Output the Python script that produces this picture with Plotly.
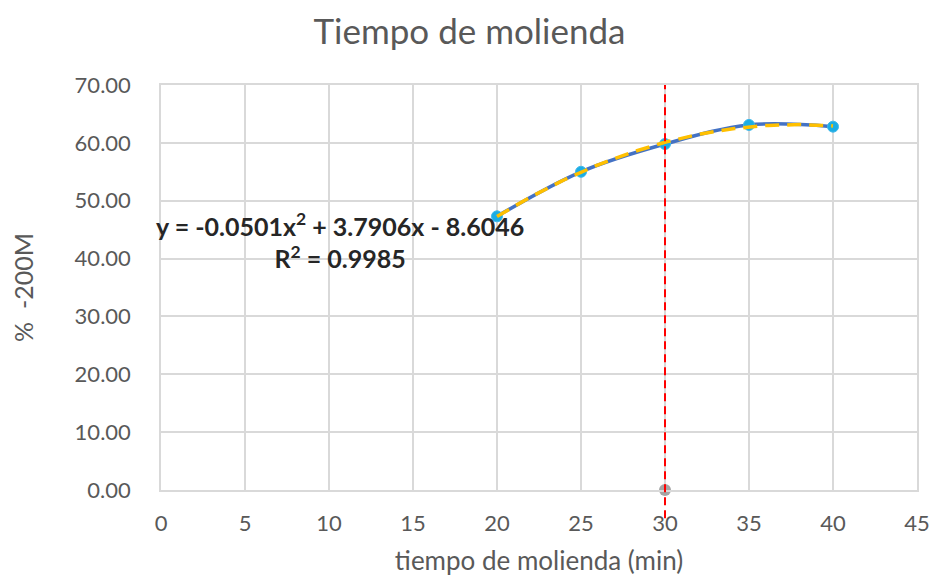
import numpy as np
import plotly.graph_objects as go

# data
tiempo = [20, 25, 30, 35, 40]
pct_200m = [47.3, 55.0, 59.8, 63.1, 62.8]
ref_x = [30]
ref_y = [0]
vline_x = 30
eq_text = "y = -0.0501x<sup>2</sup> + 3.7906x - 8.6046"
r2_text = "R<sup>2</sup> = 0.9985"
x_ticks = [0, 5, 10, 15, 20, 25, 30, 35, 40, 45]
y_ticks = [0, 10, 20, 30, 40, 50, 60, 70]

FONT = "Lato"
GREY = "#595959"
GRID = "#D9D9D9"

# quadratic trendline (as in the source chart)
coef = np.polyfit(tiempo, pct_200m, 2)
xt = np.linspace(min(tiempo), max(tiempo), 100)
yt = np.polyval(coef, xt)

fig = go.Figure()
fig.add_trace(go.Scatter(
    x=tiempo, y=pct_200m, mode="lines+markers",
    line=dict(color="#4472C4", width=3.5, shape="spline", smoothing=1),
    marker=dict(color="#1CADE4", size=11, line=dict(color="#3FB8EA", width=1)),
    showlegend=False))
fig.add_trace(go.Scatter(
    x=xt, y=yt, mode="lines",
    line=dict(color="#FFC000", width=3.5, dash="14px,8px"),
    showlegend=False))
fig.add_trace(go.Scatter(
    x=ref_x, y=ref_y, mode="markers",
    marker=dict(color="#A5A5A5", size=12), cliponaxis=False,
    showlegend=False))

fig.add_shape(type="line", xref="x", yref="paper",
              x0=vline_x, x1=vline_x, y0=-0.07, y1=1,
              line=dict(color="#FF0000", width=2, dash="8px,5px"))

fig.add_annotation(x=0.2366, y=0.6156, xref="paper", yref="paper",
                   xanchor="center", yanchor="middle",
                   text="<b>" + eq_text + "</b><br><b>" + r2_text + "</b>",
                   showarrow=False, align="center",
                   font=dict(family=FONT, size=25, color="#262626"))

fig.update_layout(
    width=939, height=580,
    margin=dict(l=161, r=9, t=85, b=84),
    paper_bgcolor="white", plot_bgcolor="white",
    title=dict(text="Tiempo de molienda", x=0.5, xanchor="center",
               y=0.945, yanchor="middle",
               font=dict(family=FONT, size=35, color=GREY)),
    font=dict(family=FONT, color=GREY, size=20),
)
fig.update_xaxes(range=[0, 45], tickvals=x_ticks, ticktext=[str(v) for v in x_ticks],
                 showgrid=True, gridcolor=GRID, gridwidth=1.5,
                 showline=True, linecolor=GRID, linewidth=1.5, mirror=True, zeroline=False,
                 ticks="", ticklabelstandoff=13, ticklabeloverflow="allow",
                 title=dict(text="tiempo de molienda (min)", standoff=17,
                            font=dict(family=FONT, size=26, color=GREY)),
                 tickfont=dict(family=FONT, size=22, color=GREY))
fig.update_yaxes(range=[0, 70], tickvals=y_ticks, ticktext=[f"{v:.2f}" for v in y_ticks],
                 showgrid=True, gridcolor=GRID, gridwidth=1.5,
                 showline=True, linecolor=GRID, linewidth=1.5, mirror=True, zeroline=False,
                 ticks="", ticklabelstandoff=24,
                 title=dict(text="%  -200M", standoff=34,
                            font=dict(family=FONT, size=25, color=GREY)),
                 tickfont=dict(family=FONT, size=22, color=GREY))

fig.write_html("out.html", config={"displayModeBar": False},
               post_script="document.body.style.margin='0px';"
                           "document.documentElement.style.overflow='hidden';")
